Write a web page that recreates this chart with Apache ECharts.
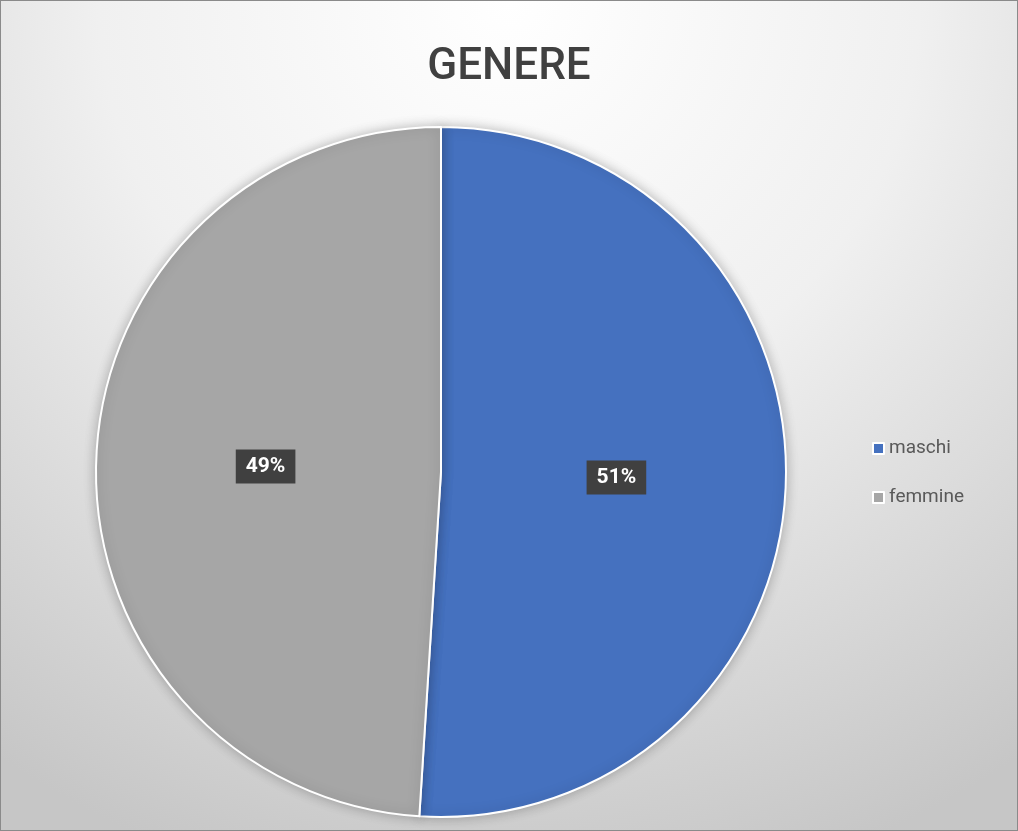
<!DOCTYPE html>
<html><head><meta charset="utf-8">
<script src="https://cdn.jsdelivr.net/npm/echarts@6/dist/echarts.min.js"></script>
<style>html,body{margin:0;padding:0;background:#fff}#c{width:1016px;height:829px;border:1px solid #8a8a8a}</style>
</head><body><div id="c"></div>
<script>
const categories = ['maschi', 'femmine'];
const values = [51, 49];
const colors = ['#4571bf', '#a6a6a6'];
const chart = echarts.init(document.getElementById('c'));
chart.setOption({
  backgroundColor: {
    type: 'radial', x: 0.5, y: 0.0, r: 1.1,
    colorStops: [{offset: 0, color: '#ffffff'}, {offset: 0.45, color: '#f0f0f0'}, {offset: 1, color: '#c6c6c6'}]
  },
  title: {
    text: 'GENERE', left: 'center', top: 40,
    textStyle: {fontFamily: 'Roboto', fontWeight: 500, fontSize: 44, color: '#404040'}
  },
  legend: {
    orient: 'vertical', left: 866, top: 433, itemGap: 30,
    itemWidth: 11, itemHeight: 11, icon: 'rect',
    textStyle: {fontFamily: 'Roboto', fontSize: 19, color: '#595959'},
    data: categories
  },
  series: [{
    type: 'pie', center: [440, 471], radius: [0, 345],
    startAngle: 90, clockwise: true,
    itemStyle: {borderColor: '#ffffff', borderWidth: 2, shadowBlur: 12, shadowColor: 'rgba(0,0,0,0.25)'},
    label: {
      position: 'inside', formatter: '{d}%',
      fontFamily: 'Roboto', fontWeight: 'bold', fontSize: 21, color: '#ffffff',
      backgroundColor: '#404040', padding: [7, 10, 6, 10]
    },
    labelLine: {show: false},
    emphasis: {disabled: true},
    data: categories.map((n, i) => ({name: n, value: values[i], itemStyle: {color: colors[i]}}))
  }]
});
</script></body></html>
